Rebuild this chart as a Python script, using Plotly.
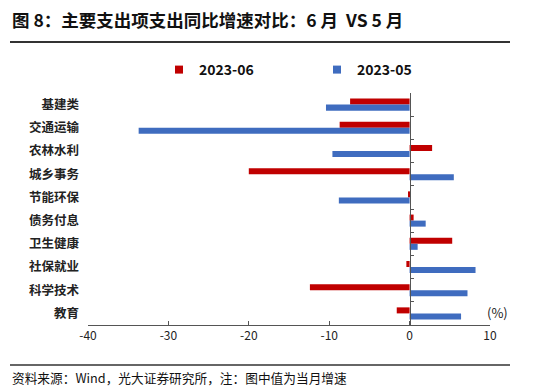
import plotly.graph_objects as go

categories = ["基建类", "交通运输", "农林水利", "城乡事务", "节能环保",
              "债务付息", "卫生健康", "社保就业", "科学技术", "教育"]
jun_2023 = [-7.4, -8.7, 2.8, -20.0, -0.2, 0.5, 5.3, -0.4, -12.4, -1.6]
may_2023 = [-10.4, -33.7, -9.6, 5.5, -8.8, 2.0, 1.0, 8.2, 7.2, 6.4]
x_ticks = [-40, -30, -20, -10, 0, 10]
series_names = ["2023-06", "2023-05"]

RED = "#C00000"
BLUE = "#3F6CBF"
FONT = "Noto Sans CJK SC"

fig = go.Figure()
fig.add_trace(go.Bar(y=categories, x=jun_2023, orientation="h", name=series_names[0],
                     marker=dict(color=RED, line=dict(width=0)), showlegend=False))
fig.add_trace(go.Bar(y=categories, x=may_2023, orientation="h", name=series_names[1],
                     marker=dict(color=BLUE, line=dict(width=0)), showlegend=False))
# legend entries with small square symbols
for name, col in zip(series_names, [RED, BLUE]):
    fig.add_trace(go.Scatter(x=[None], y=[None], mode="markers", name=name,
                             marker=dict(symbol="square", size=8, color=col)))

fig.update_layout(
    width=550, height=390,
    margin=dict(l=88, r=60, t=93, b=65, autoexpand=False),
    paper_bgcolor="white", plot_bgcolor="white",
    font=dict(family=FONT, color="#222"),
    barmode="group", bargap=0.48, bargroupgap=0,
    showlegend=True,
    legend=dict(orientation="h", xref="container", yref="container",
                x=159 / 550, y=1 - 70 / 390, xanchor="left", yanchor="middle",
                font=dict(size=14, family=FONT, weight="bold", color="#111"),
                entrywidth=113, entrywidthmode="pixels", itemwidth=30,
                traceorder="normal", bgcolor="rgba(0,0,0,0)"),
    xaxis=dict(range=[-40, 10], tickvals=x_ticks, ticktext=[str(v) for v in x_ticks],
               showgrid=False, zeroline=False, showline=True, linecolor="#555",
               linewidth=1, ticks="inside", ticklen=4, tickcolor="#555",
               tickfont=dict(size=12, color="#222"), fixedrange=True, automargin=False),
    yaxis=dict(type="category", categoryorder="array", categoryarray=categories,
               autorange="reversed", showgrid=False, zeroline=False, showline=False,
               ticks="", tickfont=dict(size=12.5, color="#222", weight="bold"),
               ticklabelstandoff=8, automargin=False),
    yaxis2=dict(type="category", categoryorder="array", categoryarray=categories,
                range=[len(categories) - 0.5, -0.5], overlaying="y", anchor="free",
                position=0.8, showline=True, linecolor="#555", linewidth=1,
                ticks="inside", tickson="boundaries", ticklen=3, tickcolor="#555",
                showticklabels=False, showgrid=False, zeroline=False, automargin=False),
)
# invisible trace to activate yaxis2
fig.add_trace(go.Scatter(x=[0] * len(categories), y=categories, yaxis="y2",
                         mode="markers", marker=dict(opacity=0), showlegend=False,
                         hoverinfo="skip"))

fig.add_annotation(text="图 8：主要支出项支出同比增速对比：6 月  VS 5 月",
                   xref="paper", yref="paper", x=(10 - 88) / 402, y=1 + (93 - 20) / 232,
                   xanchor="left", yanchor="middle", showarrow=False,
                   font=dict(size=17.5, family=FONT, weight="bold", color="#111"))
fig.add_annotation(text="资料来源：Wind，光大证券研究所，注：图中值为当月增速",
                   xref="paper", yref="paper", x=(10 - 88) / 402, y=-(377 - 325) / 232,
                   xanchor="left", yanchor="middle", showarrow=False,
                   font=dict(size=12.7, family=FONT, color="#111"))
fig.add_annotation(text="(%)", xref="paper", yref="paper",
                   x=(498 - 88) / 402, y=-(312 - 325) / 232,
                   xanchor="center", yanchor="middle", showarrow=False,
                   font=dict(size=13, family=FONT, color="#222"))

line_y_top = 1 + (93 - 42) / 232
line_y_bot = -(365 - 325) / 232
fig.add_shape(type="line", xref="paper", yref="paper", layer="above",
              x0=(10 - 88) / 402, x1=(510 - 88) / 402, y0=line_y_top, y1=line_y_top,
              line=dict(color="#333333", width=2))
fig.add_shape(type="line", xref="paper", yref="paper", layer="above",
              x0=(10 - 88) / 402, x1=(510 - 88) / 402, y0=line_y_bot, y1=line_y_bot,
              line=dict(color="#333333", width=1.5))

fig.write_html("out.html", config={"displayModeBar": False},
               post_script="document.body.style.margin='0';document.body.style.overflow='hidden';")
